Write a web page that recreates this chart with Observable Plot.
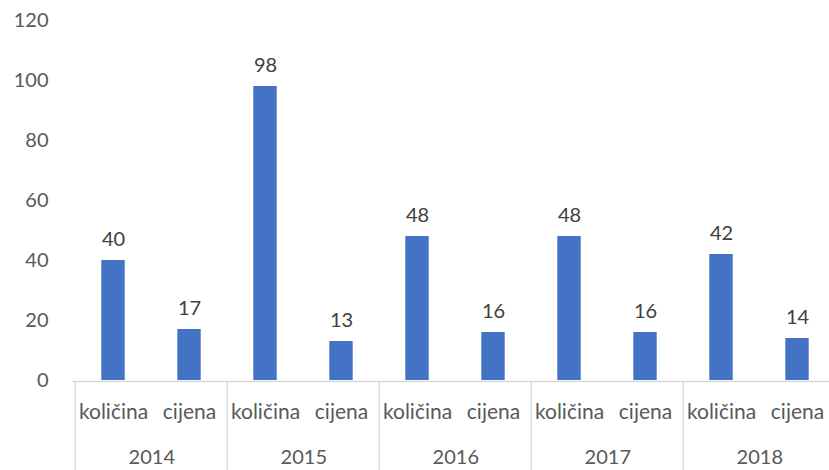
<!DOCTYPE html>
<html>
<head>
<meta charset="utf-8">
<script src="https://cdn.jsdelivr.net/npm/d3@7"></script>
<script src="https://cdn.jsdelivr.net/npm/@observablehq/plot@0.6"></script>
<style>
  body { margin: 0; background: #fff; }
</style>
</head>
<body>
<div id="chart"></div>
<script>
const years = ["2014", "2015", "2016", "2017", "2018"];
const categories = ["količina", "cijena"];
const kolicina = [40, 98, 48, 48, 42];
const cijena = [17, 13, 16, 16, 14];
const yTicks = [0, 20, 40, 60, 80, 100, 120];

const series = [kolicina, cijena];
const data = [];
years.forEach((yr, i) => {
  categories.forEach((c, j) => {
    data.push({key: yr + "|" + c, year: yr, cat: c, value: series[j][i]});
  });
});
const keys = data.map(d => d.key);
const firstKeys = years.map(y => y + "|" + categories[0]);

const xRange = [72, 838];
const step = (xRange[1] - xRange[0]) / keys.length;
const barW = 24;
const fs = 20;

const chart = Plot.plot({
  width: 829,
  height: 470,
  marginLeft: 72,
  marginRight: 0,
  marginTop: 20,
  marginBottom: 90,
  style: {fontFamily: "Lato, 'Open Sans', sans-serif", fontSize: fs + "px", color: "#595959", background: "#fff"},
  x: {domain: keys, range: xRange, padding: 0},
  y: {domain: [0, 120]},
  marks: [
    Plot.barY(data, {x: "key", y: "value", fill: "#4472C4", insetLeft: (step - barW) / 2, insetRight: (step - barW) / 2}),
    Plot.text(data, {x: "key", y: "value", text: d => String(d.value), lineAnchor: "bottom", dy: -15, fill: "#404040", fontSize: fs}),
    Plot.ruleY([0], {stroke: "#d9d9d9", strokeWidth: 1.3, dy: 1}),
    Plot.axisY({ticks: yTicks, tickSize: 0, tickPadding: 24, fontSize: fs, label: null, fill: "#595959"}),
    Plot.axisX({tickSize: 0, tickPadding: 24, fontSize: fs + 1, label: null, tickFormat: k => k.split("|")[1], fill: "#595959"}),
    Plot.axisX({ticks: firstKeys, tickSize: 0, tickPadding: 69, dx: step / 2, fontSize: fs, label: null, tickFormat: k => k.split("|")[0], fill: "#595959"}),
    Plot.axisX({ticks: firstKeys, tickSize: 90, tickFormat: () => "", dx: -step / 2, dy: 1, stroke: "#d9d9d9", strokeWidth: 1.3, label: null})
  ]
});
document.getElementById("chart").appendChild(chart);
</script>
</body>
</html>
